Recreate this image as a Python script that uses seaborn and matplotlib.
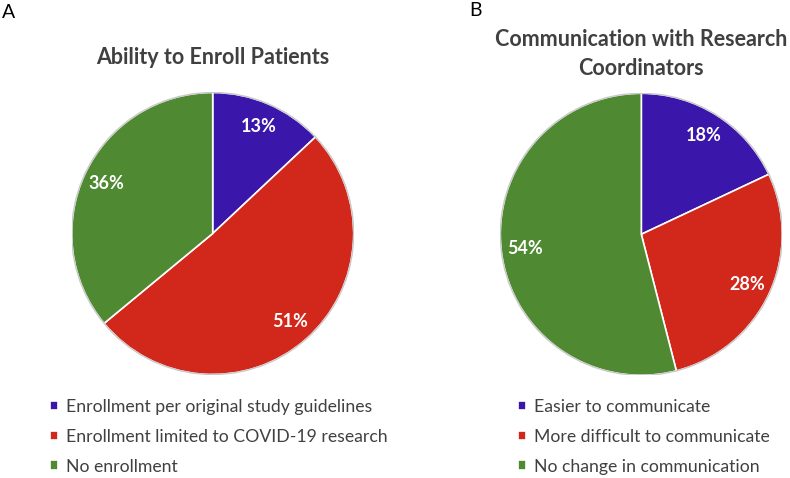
import numpy as np
import seaborn as sns
import matplotlib
matplotlib.use("Agg")
import matplotlib.pyplot as plt

sns.set_theme(style="white")
plt.rcParams['font.family'] = ['Lato', 'DejaVu Sans']

# data
enroll_labels = ['Enrollment per original study guidelines',
                 'Enrollment limited to COVID-19 research',
                 'No enrollment']
enroll_values = [13, 51, 36]
comm_labels = ['Easier to communicate',
               'More difficult to communicate',
               'No change in communication']
comm_values = [18, 28, 54]
colors = ['#3a17aa', '#d2281c', '#4f8a32']

W, H = 790, 478
fig = plt.figure(figsize=(W / 100, H / 100), dpi=100)
text_grey = '#404040'


def pie_panel(cx, cy, r, values, labels, title, letter, letter_xy,
              title_y, legend_xy):
    ax = fig.add_axes([(cx - r) / W, (H - cy - r) / H, 2 * r / W, 2 * r / H])
    wedges, _, autotexts = ax.pie(
        values, colors=colors, startangle=90, counterclock=False,
        autopct='%1.0f%%', pctdistance=0.83,
        wedgeprops=dict(edgecolor='white', linewidth=1.2),
        textprops=dict(color='white', fontsize=13, fontweight='bold'))
    # faint outer rim
    ax.add_patch(plt.Circle((0, 0), 1.0, fill=False, ec='#c8c8c8', lw=1.0))
    ax.set_xlim(-1, 1)
    ax.set_ylim(-1, 1)
    ax.set_aspect('equal')
    ax.axis('off')
    fig.text(cx / W, 1 - title_y / H, title, ha='center', va='center',
             fontsize=15.5, fontweight='bold', color=text_grey,
             linespacing=1.45)
    fig.text(letter_xy[0] / W, 1 - letter_xy[1] / H, letter, ha='left',
             va='top', fontsize=14, color='black')
    fig.legend(wedges, labels, loc='upper left',
               bbox_to_anchor=(legend_xy[0] / W, 1 - legend_xy[1] / H),
               frameon=False, fontsize=12.7, labelcolor=text_grey,
               handlelength=0.45, handleheight=0.45, handletextpad=0.45,
               labelspacing=0.78, borderpad=0, borderaxespad=0)


pie_panel(212.7, 233.5, 141, enroll_values, enroll_labels,
          'Ability to Enroll Patients', 'A', (2, 4), 57, (50, 399))
pie_panel(641.3, 234.3, 141, comm_values, comm_labels,
          'Communication with Research\nCoordinators', 'B', (469, 2), 54,
          (518, 399))

fig.savefig('out.png', dpi=100, facecolor='white')
